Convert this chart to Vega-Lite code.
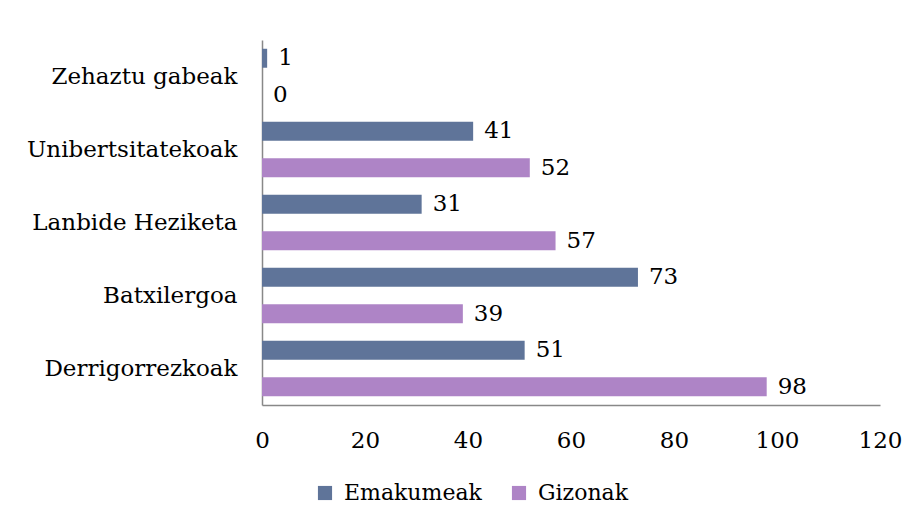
{
  "$schema": "https://vega.github.io/schema/vega-lite/v6.json",
  "width": 618,
  "height": 365,
  "autosize": "none",
  "padding": {"left": 262, "top": 40, "right": 35, "bottom": 125},
  "background": "white",
  "config": {
    "view": {"stroke": null},
    "font": "DejaVu Serif",
    "axis": {"labelFont": "DejaVu Serif", "labelColor": "black", "grid": false, "ticks": false, "domainColor": "#888888", "domainWidth": 1.5}
  },
  "data": {
    "values": [
      {"category": "Zehaztu gabeak", "group": "Emakumeak", "value": 1},
      {"category": "Zehaztu gabeak", "group": "Gizonak", "value": 0},
      {"category": "Unibertsitatekoak", "group": "Emakumeak", "value": 41},
      {"category": "Unibertsitatekoak", "group": "Gizonak", "value": 52},
      {"category": "Lanbide Heziketa", "group": "Emakumeak", "value": 31},
      {"category": "Lanbide Heziketa", "group": "Gizonak", "value": 57},
      {"category": "Batxilergoa", "group": "Emakumeak", "value": 73},
      {"category": "Batxilergoa", "group": "Gizonak", "value": 39},
      {"category": "Derrigorrezkoak", "group": "Emakumeak", "value": 51},
      {"category": "Derrigorrezkoak", "group": "Gizonak", "value": 98}
    ]
  },
  "encoding": {
    "y": {
      "field": "category", "type": "nominal",
      "sort": ["Zehaztu gabeak", "Unibertsitatekoak", "Lanbide Heziketa", "Batxilergoa", "Derrigorrezkoak"],
      "scale": {"paddingInner": 0, "paddingOuter": 0},
      "axis": {"title": null, "labelFontSize": 23, "labelPadding": 25, "labelLimit": 300, "domain": true}
    },
    "yOffset": {
      "field": "group", "type": "nominal",
      "sort": ["Emakumeak", "Gizonak"],
      "scale": {"paddingInner": 0.48, "paddingOuter": 0.24}
    },
    "x": {
      "field": "value", "type": "quantitative",
      "scale": {"domain": [0, 120], "nice": false},
      "axis": {"title": null, "values": [0, 20, 40, 60, 80, 100, 120], "labelFontSize": 23, "labelPadding": 24, "labelFlush": false}
    }
  },
  "layer": [
    {
      "mark": {"type": "bar"},
      "encoding": {
        "color": {
          "field": "group", "type": "nominal",
          "sort": ["Emakumeak", "Gizonak"],
          "scale": {"domain": ["Emakumeak", "Gizonak"], "range": ["#5f7499", "#ae84c6"]},
          "legend": {
            "title": null, "orient": "none", "legendX": 52, "legendY": 442, "direction": "horizontal",
            "symbolType": "square", "symbolSize": 200, "labelFontSize": 22,
            "labelFont": "DejaVu Serif", "labelColor": "black", "labelOffset": 8,
            "columnPadding": 26, "symbolStrokeWidth": 0
          }
        }
      }
    },
    {
      "mark": {"type": "text", "align": "left", "baseline": "middle", "dx": 11, "fontSize": 23, "color": "black"},
      "encoding": {"text": {"field": "value", "type": "quantitative"}}
    }
  ]
}
